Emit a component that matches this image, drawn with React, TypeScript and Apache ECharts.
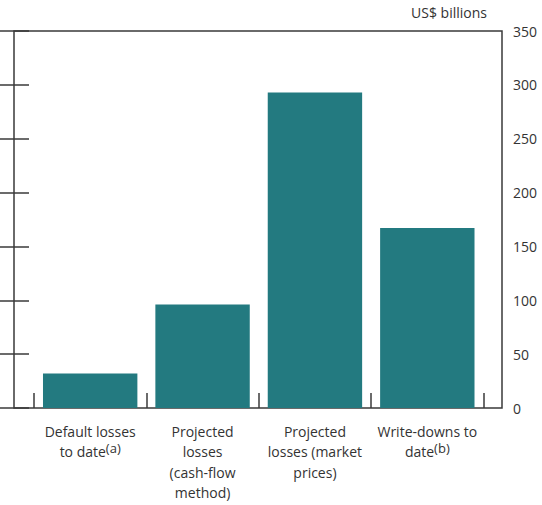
import React, { useEffect, useRef } from "react";
import * as echarts from "echarts";

const categories = [
  "Default losses\nto date",
  "Projected\nlosses\n(cash-flow\nmethod)",
  "Projected\nlosses (market\nprices)",
  "Write-downs to\ndate",
];
const footnotes = ["(a)", "", "", "(b)"];
const values = [32, 96, 293, 167];
const yTicks = { min: 0, max: 350, interval: 50 };
const unitLabel = "US$ billions";

const FONT = "'Open Sans', 'Noto Sans', sans-serif";
const TEXT = "#333333";
const LINE = "#3a3a3a";

export default function App() {
  const ref = useRef<HTMLDivElement>(null);
  useEffect(() => {
    if (!ref.current) return;
    const chart = echarts.init(ref.current, null, { renderer: "svg" });
    const tick = { show: true, inside: true, length: 15, lineStyle: { color: LINE, width: 1.5 } };
    chart.setOption({
      animation: false,
      textStyle: { fontFamily: FONT },
      graphic: [
        {
          type: "text",
          right: 55,
          top: 5,
          style: { text: unitLabel, fontFamily: FONT, fontSize: 14, fill: TEXT },
        },
      ],
      grid: [
        { left: 14, right: 40, top: 31, bottom: 97, show: true, borderColor: LINE, borderWidth: 1.5, backgroundColor: "transparent" },
        { left: 34, right: 58.5, top: 31, bottom: 97 },
      ],
      xAxis: [
        { type: "value", gridIndex: 0, show: false, min: 0, max: 1 },
        {
          type: "category",
          gridIndex: 1,
          data: categories,
          axisLine: { show: false },
          axisTick: tick,
          axisLabel: {
            interval: 0,
            margin: 13,
            fontFamily: FONT,
            fontSize: 14,
            lineHeight: 20.5,
            color: TEXT,
            formatter: (v: string, i: number) => {
              const f = footnotes[i];
              return f ? `${v}{sup|${f}}` : v;
            },
            rich: {
              sup: { fontSize: 13, fontFamily: FONT, color: TEXT, verticalAlign: "top", lineHeight: 20.5 },
            },
          },
        },
      ],
      yAxis: [
        {
          type: "value",
          gridIndex: 0,
          position: "right",
          ...yTicks,
          axisLine: { show: false },
          axisTick: tick,
          axisLabel: { margin: 11, fontFamily: FONT, fontSize: 14, color: TEXT },
          splitLine: { show: false },
        },
        {
          type: "value",
          gridIndex: 0,
          position: "left",
          ...yTicks,
          axisLine: { show: false },
          axisTick: tick,
          axisLabel: { show: false },
          splitLine: { show: false },
        },
        { type: "value", gridIndex: 1, ...yTicks, show: false, splitLine: { show: false } },
      ],
      series: [
        {
          type: "bar",
          xAxisIndex: 1,
          yAxisIndex: 2,
          data: values,
          barCategoryGap: "16%",
          itemStyle: { color: "#237a80" },
        },
      ],
    });
    return () => chart.dispose();
  }, []);
  return <div ref={ref} style={{ width: 542, height: 505, position: "absolute", left: 0, top: 0 }} />;
}
